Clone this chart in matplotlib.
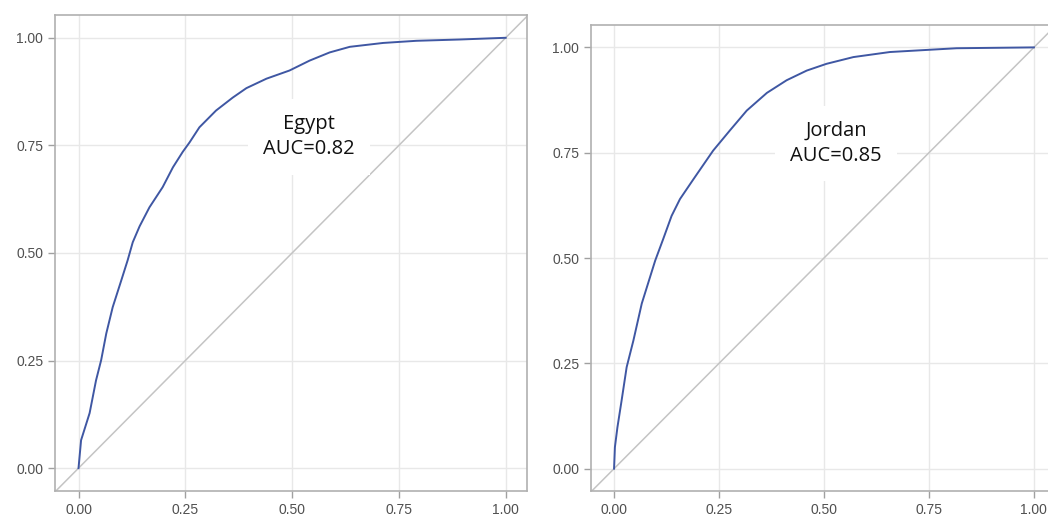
import matplotlib.pyplot as plt
import numpy as np

# ROC curves (false positive rate, true positive rate)
egypt_fpr = [0, 0.006, 0.026, 0.041, 0.053, 0.065, 0.080, 0.100, 0.115, 0.127, 0.143,
             0.166, 0.197, 0.221, 0.244, 0.260, 0.283, 0.322, 0.361, 0.393, 0.440,
             0.494, 0.541, 0.588, 0.635, 0.713, 0.791, 0.892, 1.0]
egypt_tpr = [0, 0.065, 0.128, 0.204, 0.251, 0.313, 0.374, 0.436, 0.483, 0.525, 0.562,
             0.606, 0.653, 0.699, 0.735, 0.757, 0.792, 0.831, 0.861, 0.883, 0.905,
             0.924, 0.947, 0.966, 0.979, 0.988, 0.993, 0.996, 1.0]

jordan_fpr = [0, 0.002, 0.008, 0.018, 0.030, 0.046, 0.066, 0.082, 0.098, 0.117, 0.137,
              0.157, 0.189, 0.236, 0.276, 0.316, 0.364, 0.411, 0.459, 0.506, 0.570,
              0.657, 0.745, 0.816, 1.0]
jordan_tpr = [0, 0.051, 0.098, 0.162, 0.241, 0.304, 0.392, 0.443, 0.494, 0.545, 0.600,
              0.640, 0.687, 0.755, 0.803, 0.850, 0.892, 0.922, 0.945, 0.961, 0.977,
              0.989, 0.994, 0.998, 1.0]

ticks = [0, 0.25, 0.5, 0.75, 1.0]
tick_labels = ['0.00', '0.25', '0.50', '0.75', '1.00']

panels = [
    ('Egypt', 'AUC=0.82', egypt_fpr, egypt_tpr, [0.0525, 0.0558, 0.4504, 0.9154], (0.539, 0.77)),
    ('Jordan', 'AUC=0.85', jordan_fpr, jordan_tpr, [0.5639, 0.0558, 0.4427, 0.896], (0.529, 0.772)),
]

fig = plt.figure(figsize=(10.48, 5.2), dpi=100)

for name, auc, fpr, tpr, pos, txt in panels:
    ax = fig.add_axes(pos)
    ax.set_xlim(-0.055, 1.05)
    ax.set_ylim(-0.053, 1.053)
    ax.set_xticks(ticks, tick_labels)
    ax.set_yticks(ticks, tick_labels)
    ax.grid(color='#e8e8e8', lw=1)
    ax.set_axisbelow(True)
    for s in ax.spines.values():
        s.set_color('#b0b0b0')
        s.set_linewidth(1.2)
    ax.tick_params(colors='#a0a0a0', labelcolor='#505050', length=5, width=1,
                   labelsize=10)
    for lab in ax.get_xticklabels() + ax.get_yticklabels():
        lab.set_family('Liberation Sans')
    ax.axline((0, 0), slope=1, color='#c4c4c4', lw=1.1, zorder=2)
    ax.plot(fpr, tpr, color='#3f57a3', lw=1.4, zorder=3)
    ax.text(txt[0], txt[1], name + '\n' + auc, ha='center', va='center',
            family='Open Sans', fontsize=14.5, color='#111111', linespacing=1.35,
            zorder=4,
            bbox=dict(boxstyle='square,pad=0.75', fc='white', ec='none'))

fig.savefig('out.png', dpi=100)
